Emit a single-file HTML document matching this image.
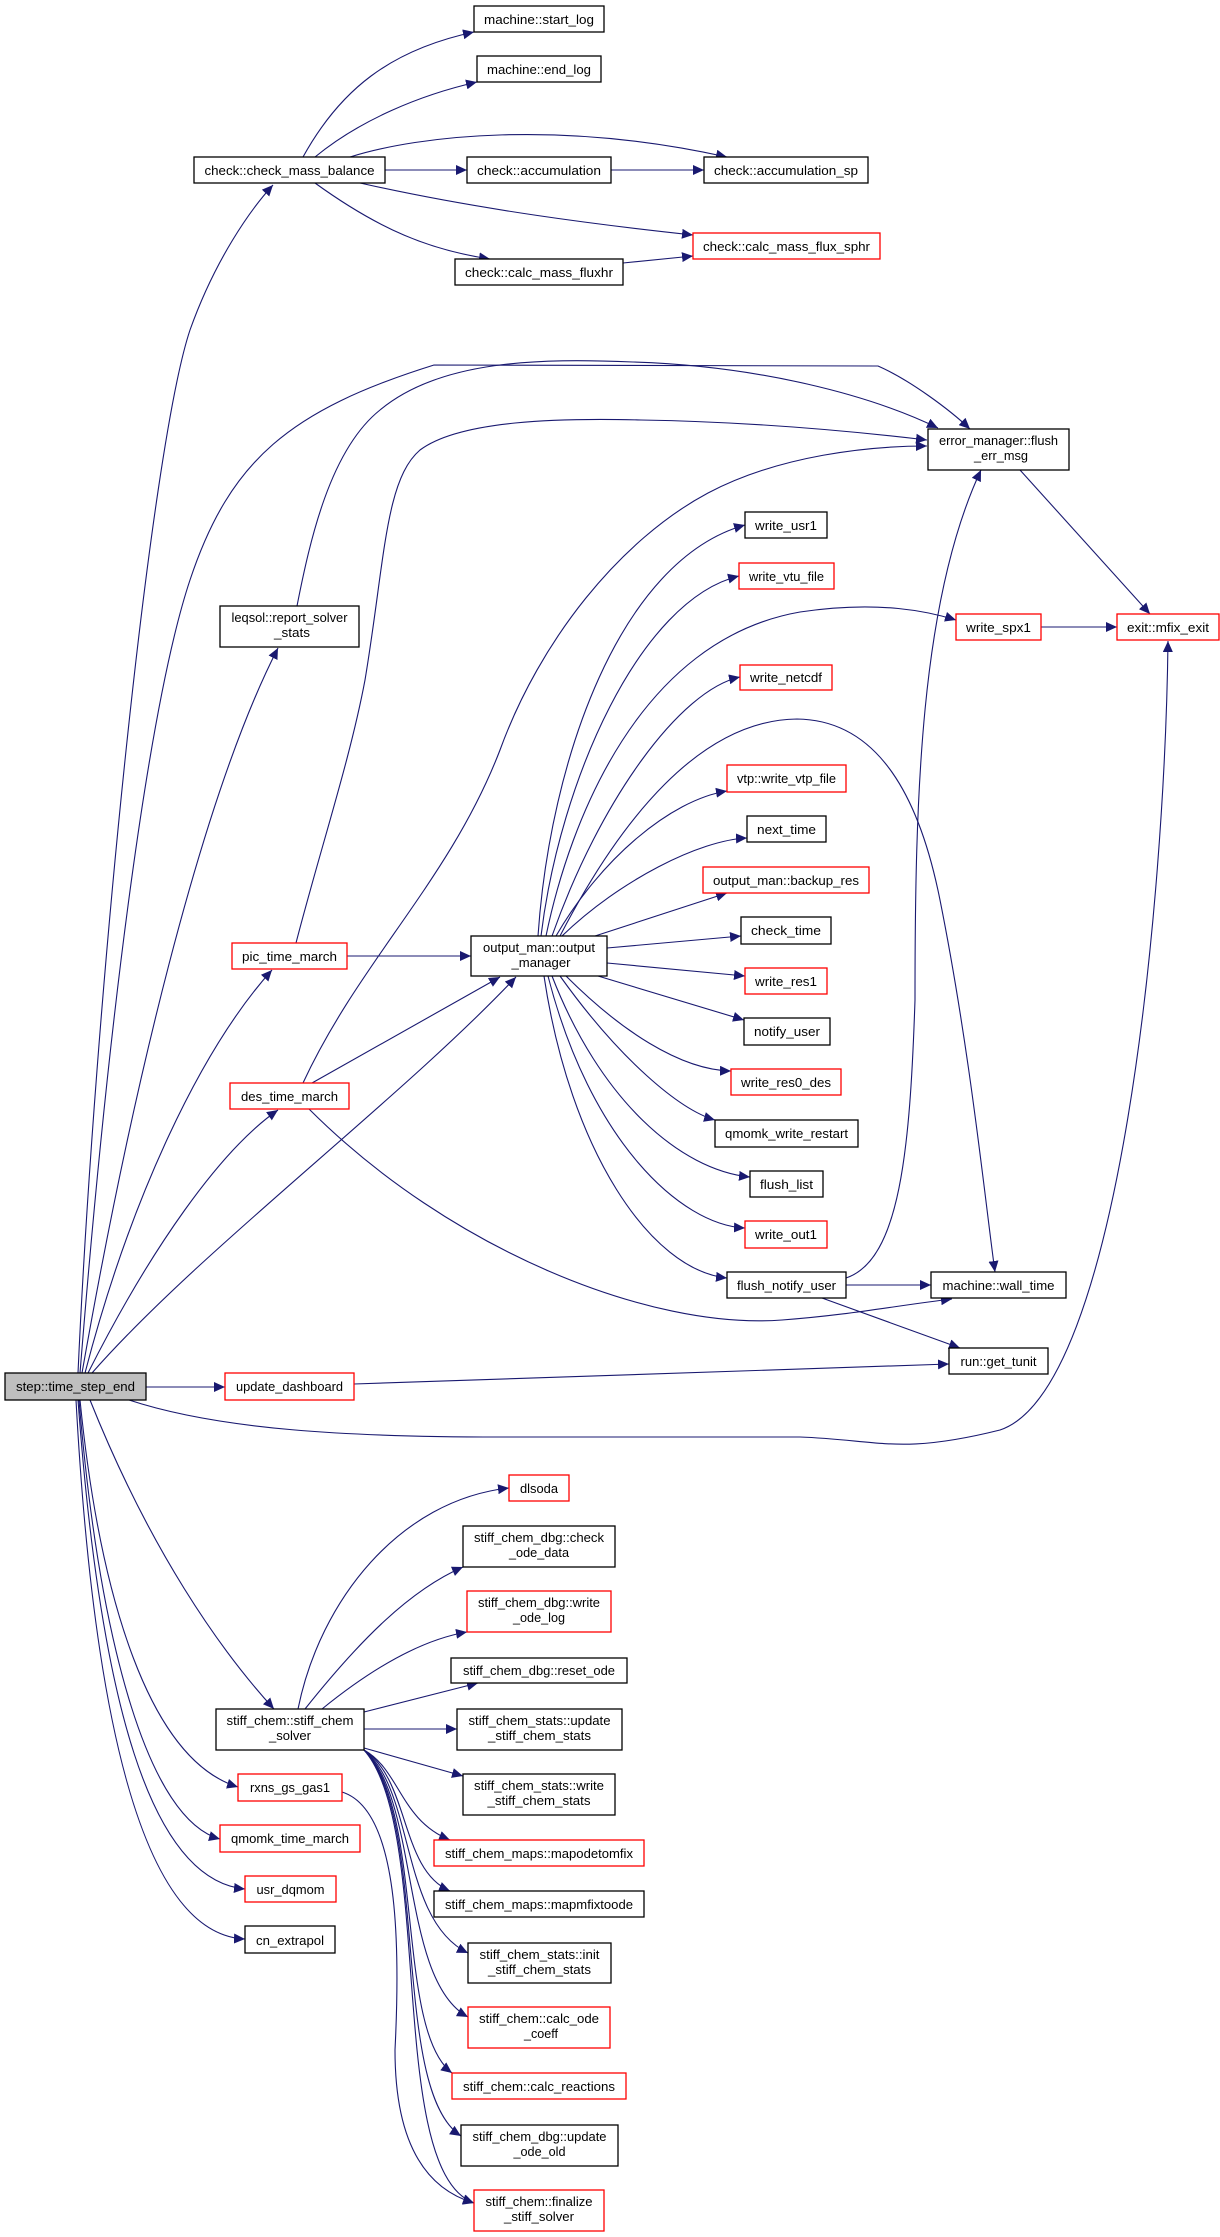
<!DOCTYPE html>
<html><head><meta charset="utf-8"><style>
html,body{margin:0;padding:0;background:#fff;}
svg{display:block;}
text{font-family:"Liberation Sans",sans-serif;font-size:13px;fill:#000;}
</style></head><body>
<svg width="1220" height="2237" viewBox="0 0 1220 2237" xmlns="http://www.w3.org/2000/svg">
<defs>
<marker id="a" markerUnits="userSpaceOnUse" markerWidth="12" markerHeight="10" refX="11" refY="5" orient="auto">
<path d="M0,0 L11,5 L0,10 Z" fill="#191970"/>
</marker>
</defs>
<g fill="none" stroke="#191970" stroke-width="1.1" marker-end="url(#a)">
<!-- step edges -->
<path d="M78,1373 C95,1000 150,450 190,330 C215,260 250,210 273,185"/>
<path d="M80,1373 C110,1000 150,700 190,580 C230,460 290,410 434,365 L878,366 C910,380 950,410 970,429"/>
<path d="M82,1373 C130,1100 200,800 278,648"/>
<path d="M85,1373 C130,1200 200,1050 272,970"/>
<path d="M88,1373 C150,1250 220,1150 278,1110"/>
<path d="M92,1373 C200,1250 400,1100 516,977"/>
<path d="M146,1387 L225,1387"/>
<path d="M129,1400 C220,1430 350,1437 500,1437 L800,1437 C880,1440 900,1455 1000,1430 C1120,1390 1165,900 1168,641"/>
<path d="M90,1400 C150,1550 220,1650 274,1709"/>
<path d="M80,1400 C100,1600 150,1760 238,1787"/>
<path d="M79,1400 C100,1650 150,1820 220,1839"/>
<path d="M78,1400 C100,1700 150,1880 245,1889"/>
<path d="M76,1400 C95,1750 150,1935 245,1939"/>
<!-- leqsol, pic, des -->
<path d="M297,606 C310,540 330,450 380,410 C440,360 540,358 633,362 C760,366 870,395 938,428"/>
<path d="M347,956 L471,956"/>
<path d="M296,943 C320,850 350,760 365,680 C385,560 385,480 420,450 C460,420 560,418 641,420 C760,422 860,432 927,440"/>
<path d="M312,1083 L500,977"/>
<path d="M303,1083 C360,960 450,880 500,750 C540,640 620,540 708,493 C780,455 870,446 927,446"/>
<path d="M309,1109 C450,1250 650,1330 782,1320 C850,1315 900,1305 952,1299"/>
<path d="M354,1384 L949,1364"/>
<!-- check_mass_balance -->
<path d="M303,157 C340,90 390,50 474,32"/>
<path d="M315,157 C360,120 420,95 477,82"/>
<path d="M385,170 L467,170"/>
<path d="M350,157 C420,135 560,120 727,157"/>
<path d="M360,183 C480,210 600,225 693,235"/>
<path d="M315,183 C380,230 430,250 490,259"/>
<path d="M611,170 L704,170"/>
<path d="M623,263 L693,256"/>
<path d="M1020,470 L1150,614"/>
<path d="M1041,627 L1117,627"/>
<!-- output_manager -->
<path d="M538,936 C550,760 620,560 745,525"/>
<path d="M541,936 C560,780 640,600 739,576"/>
<path d="M546,936 C570,820 640,640 800,612 C880,600 930,612 956,620"/>
<path d="M552,936 C600,800 680,690 740,677"/>
<path d="M560,936 C620,820 700,720 797,719 C880,720 920,800 940,900 C970,1050 985,1200 995,1272"/>
<path d="M556,936 C600,860 670,800 727,791"/>
<path d="M562,936 C620,880 700,840 747,838"/>
<path d="M595,936 L727,893"/>
<path d="M607,948 L741,936"/>
<path d="M607,963 L745,976"/>
<path d="M598,976 L744,1020"/>
<path d="M566,976 C620,1030 680,1070 731,1071"/>
<path d="M560,976 C620,1060 680,1110 715,1120"/>
<path d="M552,976 C600,1100 680,1170 750,1177"/>
<path d="M548,976 C590,1140 680,1225 745,1228"/>
<path d="M544,976 C570,1150 650,1270 727,1278"/>
<path d="M846,1278 C900,1260 910,1150 915,1000 C915,800 920,600 981,470"/>
<path d="M846,1285 L931,1285"/>
<path d="M822,1298 L960,1348"/>
<!-- stiff_chem_solver -->
<path d="M298,1709 C320,1600 400,1500 509,1488"/>
<path d="M305,1709 C360,1640 410,1590 463,1567"/>
<path d="M322,1709 C370,1670 420,1640 467,1632"/>
<path d="M364,1712 L478,1683"/>
<path d="M364,1729 L457,1729"/>
<path d="M364,1748 L463,1776"/>
<path d="M364,1750 C400,1770 400,1820 450,1840"/>
<path d="M364,1750 C410,1780 400,1870 450,1891"/>
<path d="M364,1750 C415,1790 400,1920 468,1953"/>
<path d="M364,1750 C420,1800 400,1980 468,2017"/>
<path d="M364,1750 C425,1810 395,2030 452,2073"/>
<path d="M364,1750 C430,1820 390,2090 461,2136"/>
<path d="M364,1750 C435,1830 385,2170 474,2203"/>
<path d="M342,1792 C400,1810 400,1950 395,2050 C395,2150 430,2190 474,2203"/>
</g>
<g stroke-width="1.3">
<g fill="#fff" stroke="#000">
<rect x="474" y="6" width="130" height="26"/>
<rect x="477" y="56" width="124" height="26"/>
<rect x="194" y="157" width="191" height="26"/>
<rect x="467" y="157" width="144" height="26"/>
<rect x="704" y="157" width="164" height="26"/>
<rect x="455" y="259" width="168" height="26"/>
<rect x="928" y="429" width="141" height="41"/>
<rect x="745" y="512" width="82" height="26"/>
<rect x="220" y="606" width="139" height="41"/>
<rect x="747" y="816" width="79" height="26"/>
<rect x="741" y="917" width="90" height="27"/>
<rect x="744" y="1018" width="86" height="27"/>
<rect x="715" y="1120" width="143" height="27"/>
<rect x="750" y="1171" width="73" height="26"/>
<rect x="727" y="1272" width="119" height="26"/>
<rect x="931" y="1272" width="135" height="26"/>
<rect x="949" y="1348" width="99" height="26"/>
<rect x="471" y="936" width="136" height="40"/>
<rect x="463" y="1526" width="152" height="41"/>
<rect x="451" y="1658" width="176" height="25"/>
<rect x="457" y="1709" width="165" height="41"/>
<rect x="216" y="1709" width="148" height="41"/>
<rect x="463" y="1774" width="152" height="41"/>
<rect x="434" y="1891" width="210" height="26"/>
<rect x="245" y="1926" width="90" height="27"/>
<rect x="468" y="1943" width="143" height="40"/>
<rect x="461" y="2125" width="157" height="41"/>
</g>
<rect x="5" y="1373" width="141" height="27" fill="#bfbfbf" stroke="#000"/>
<g fill="#fff" stroke="#ff0000">
<rect x="693" y="233" width="187" height="26"/>
<rect x="739" y="563" width="95" height="26"/>
<rect x="956" y="614" width="85" height="26"/>
<rect x="1117" y="614" width="102" height="26"/>
<rect x="740" y="665" width="92" height="25"/>
<rect x="727" y="765" width="119" height="27"/>
<rect x="703" y="867" width="166" height="26"/>
<rect x="745" y="968" width="82" height="26"/>
<rect x="731" y="1069" width="110" height="26"/>
<rect x="745" y="1221" width="82" height="27"/>
<rect x="232" y="943" width="115" height="26"/>
<rect x="230" y="1083" width="119" height="26"/>
<rect x="225" y="1373" width="129" height="27"/>
<rect x="509" y="1475" width="60" height="26"/>
<rect x="467" y="1591" width="144" height="41"/>
<rect x="238" y="1774" width="104" height="27"/>
<rect x="220" y="1825" width="140" height="27"/>
<rect x="434" y="1840" width="210" height="26"/>
<rect x="245" y="1876" width="91" height="26"/>
<rect x="468" y="2007" width="142" height="41"/>
<rect x="452" y="2073" width="174" height="26"/>
<rect x="474" y="2190" width="130" height="41"/>
</g>
</g>
<g text-anchor="middle" lengthAdjust="spacingAndGlyphs">
<text x="539" y="24" textLength="110" lengthAdjust="spacingAndGlyphs">machine::start_log</text>
<text x="539" y="74" textLength="104" lengthAdjust="spacingAndGlyphs">machine::end_log</text>
<text x="289.5" y="175" textLength="170" lengthAdjust="spacingAndGlyphs">check::check_mass_balance</text>
<text x="539" y="175" textLength="124" lengthAdjust="spacingAndGlyphs">check::accumulation</text>
<text x="786" y="175" textLength="144" lengthAdjust="spacingAndGlyphs">check::accumulation_sp</text>
<text x="786.5" y="251" textLength="167" lengthAdjust="spacingAndGlyphs">check::calc_mass_flux_sphr</text>
<text x="539" y="277" textLength="148" lengthAdjust="spacingAndGlyphs">check::calc_mass_fluxhr</text>
<text x="998.5" y="445" textLength="119" lengthAdjust="spacingAndGlyphs">error_manager::flush</text>
<text x="1001" y="460" textLength="54" lengthAdjust="spacingAndGlyphs">_err_msg</text>
<text x="786" y="530" textLength="62" lengthAdjust="spacingAndGlyphs">write_usr1</text>
<text x="786.5" y="581" textLength="75" lengthAdjust="spacingAndGlyphs">write_vtu_file</text>
<text x="998.5" y="632" textLength="65" lengthAdjust="spacingAndGlyphs">write_spx1</text>
<text x="1168" y="632" textLength="82" lengthAdjust="spacingAndGlyphs">exit::mfix_exit</text>
<text x="786" y="682" textLength="72" lengthAdjust="spacingAndGlyphs">write_netcdf</text>
<text x="289.5" y="622" textLength="116" lengthAdjust="spacingAndGlyphs">leqsol::report_solver</text>
<text x="292" y="637" textLength="36" lengthAdjust="spacingAndGlyphs">_stats</text>
<text x="786.5" y="783" textLength="99" lengthAdjust="spacingAndGlyphs">vtp::write_vtp_file</text>
<text x="786.5" y="834" textLength="59" lengthAdjust="spacingAndGlyphs">next_time</text>
<text x="786" y="885" textLength="146" lengthAdjust="spacingAndGlyphs">output_man::backup_res</text>
<text x="786" y="935" textLength="70" lengthAdjust="spacingAndGlyphs">check_time</text>
<text x="786" y="986" textLength="62" lengthAdjust="spacingAndGlyphs">write_res1</text>
<text x="787" y="1036" textLength="66" lengthAdjust="spacingAndGlyphs">notify_user</text>
<text x="786" y="1087" textLength="90" lengthAdjust="spacingAndGlyphs">write_res0_des</text>
<text x="786.5" y="1138" textLength="123" lengthAdjust="spacingAndGlyphs">qmomk_write_restart</text>
<text x="786.5" y="1189" textLength="53" lengthAdjust="spacingAndGlyphs">flush_list</text>
<text x="786" y="1239" textLength="62" lengthAdjust="spacingAndGlyphs">write_out1</text>
<text x="786.5" y="1290" textLength="99" lengthAdjust="spacingAndGlyphs">flush_notify_user</text>
<text x="998.5" y="1290" textLength="112" lengthAdjust="spacingAndGlyphs">machine::wall_time</text>
<text x="998.5" y="1366" textLength="76" lengthAdjust="spacingAndGlyphs">run::get_tunit</text>
<text x="539" y="952" textLength="112" lengthAdjust="spacingAndGlyphs">output_man::output</text>
<text x="541" y="967" textLength="59" lengthAdjust="spacingAndGlyphs">_manager</text>
<text x="289.5" y="961" textLength="95" lengthAdjust="spacingAndGlyphs">pic_time_march</text>
<text x="289.5" y="1101" textLength="97" lengthAdjust="spacingAndGlyphs">des_time_march</text>
<text x="75.5" y="1391" textLength="119" lengthAdjust="spacingAndGlyphs">step::time_step_end</text>
<text x="289.5" y="1391" textLength="107" lengthAdjust="spacingAndGlyphs">update_dashboard</text>
<text x="539" y="1493" textLength="38" lengthAdjust="spacingAndGlyphs">dlsoda</text>
<text x="539" y="1542" textLength="130" lengthAdjust="spacingAndGlyphs">stiff_chem_dbg::check</text>
<text x="539" y="1557" textLength="60" lengthAdjust="spacingAndGlyphs">_ode_data</text>
<text x="539" y="1607" textLength="122" lengthAdjust="spacingAndGlyphs">stiff_chem_dbg::write</text>
<text x="539" y="1622" textLength="52" lengthAdjust="spacingAndGlyphs">_ode_log</text>
<text x="539" y="1675" textLength="152" lengthAdjust="spacingAndGlyphs">stiff_chem_dbg::reset_ode</text>
<text x="539.5" y="1725" textLength="142" lengthAdjust="spacingAndGlyphs">stiff_chem_stats::update</text>
<text x="539.5" y="1740" textLength="103" lengthAdjust="spacingAndGlyphs">_stiff_chem_stats</text>
<text x="290" y="1725" textLength="127" lengthAdjust="spacingAndGlyphs">stiff_chem::stiff_chem</text>
<text x="290" y="1740" textLength="42" lengthAdjust="spacingAndGlyphs">_solver</text>
<text x="539" y="1790" textLength="130" lengthAdjust="spacingAndGlyphs">stiff_chem_stats::write</text>
<text x="539" y="1805" textLength="103" lengthAdjust="spacingAndGlyphs">_stiff_chem_stats</text>
<text x="290" y="1792" textLength="80" lengthAdjust="spacingAndGlyphs">rxns_gs_gas1</text>
<text x="290" y="1843" textLength="118" lengthAdjust="spacingAndGlyphs">qmomk_time_march</text>
<text x="539" y="1858" textLength="188" lengthAdjust="spacingAndGlyphs">stiff_chem_maps::mapodetomfix</text>
<text x="290.5" y="1894" textLength="68" lengthAdjust="spacingAndGlyphs">usr_dqmom</text>
<text x="539" y="1909" textLength="188" lengthAdjust="spacingAndGlyphs">stiff_chem_maps::mapmfixtoode</text>
<text x="290" y="1945" textLength="68" lengthAdjust="spacingAndGlyphs">cn_extrapol</text>
<text x="539.5" y="1959" textLength="120" lengthAdjust="spacingAndGlyphs">stiff_chem_stats::init</text>
<text x="539.5" y="1974" textLength="103" lengthAdjust="spacingAndGlyphs">_stiff_chem_stats</text>
<text x="539" y="2023" textLength="120" lengthAdjust="spacingAndGlyphs">stiff_chem::calc_ode</text>
<text x="541" y="2038" textLength="34" lengthAdjust="spacingAndGlyphs">_coeff</text>
<text x="539" y="2091" textLength="152" lengthAdjust="spacingAndGlyphs">stiff_chem::calc_reactions</text>
<text x="539.5" y="2141" textLength="134" lengthAdjust="spacingAndGlyphs">stiff_chem_dbg::update</text>
<text x="539.5" y="2156" textLength="52" lengthAdjust="spacingAndGlyphs">_ode_old</text>
<text x="539" y="2206" textLength="107" lengthAdjust="spacingAndGlyphs">stiff_chem::finalize</text>
<text x="539" y="2221" textLength="70" lengthAdjust="spacingAndGlyphs">_stiff_solver</text>
</g>
</svg>
</body></html>
